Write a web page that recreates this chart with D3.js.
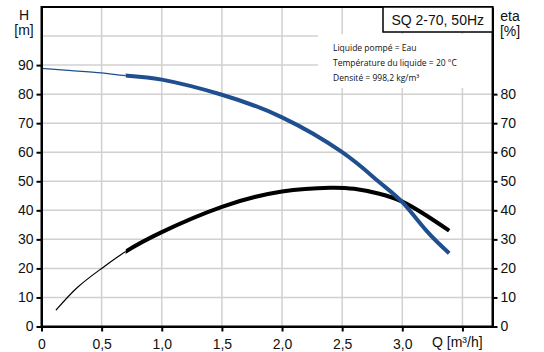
<!DOCTYPE html>
<html>
<head>
<meta charset="utf-8">
<script src="https://cdn.jsdelivr.net/npm/d3@7"></script>
<style>
  body { margin: 0; background: #fff; }
  svg { display: block; font-family: "Liberation Sans", Arial, sans-serif; }
  .grid line { stroke: #d0d0d0; stroke-width: 1.5; }
  .axis path, .axis line { stroke: #000; stroke-width: 2; }
  .axis text { font-size: 14px; fill: #111; }
</style>
</head>
<body>
<figure id="chart" style="margin:0"></figure>
<script>
// pump curve
const headQ = [0, 0.25, 0.5, 0.7, 1.0, 1.5, 2.0, 2.5, 2.8, 3.0, 3.2, 3.39];
const headH = [88.9, 88.1, 87.3, 86.4, 85.0, 79.8, 72.0, 60.0, 50.0, 42.8, 33.0, 25.2];
const effQ = [0.12, 0.3, 0.5, 0.7, 1.0, 1.5, 2.0, 2.4, 2.6, 2.8, 3.0, 3.2, 3.39];
const effEta = [5.6, 13.5, 20.0, 25.8, 32.5, 41.2, 46.5, 47.8, 47.4, 45.8, 43.0, 38.2, 33.0];
const dutyStart = 0.7; // thick part of the curves begins here

const xTicks = [0, 0.5, 1.0, 1.5, 2.0, 2.5, 3.0, 3.5];
const hTicks = [0, 10, 20, 30, 40, 50, 60, 70, 80, 90];
const etaTicks = [0, 10, 20, 30, 40, 50, 60, 70, 80];
const gridY = [10, 20, 30, 40, 50, 60, 70, 80, 90, 100];

const title = "SQ 2-70, 50Hz";
const infoLines = ["Liquide pompé = Eau", "Température du liquide = 20 °C", "Densité = 998,2 kg/m³"];

const width = 544, height = 352;
const mLeft = 41.5, mRight = 492.5, mTop = 7, mBottom = 326.5;

const x = d3.scaleLinear().domain([0, 3.75]).range([mLeft, mRight]);
const y = d3.scaleLinear().domain([0, 110]).range([mBottom, mTop]);

const svg = d3.select("figure#chart")
  .append("svg")
  .attr("width", width)
  .attr("height", height);

// clip regions either side of the duty range start
const defs = svg.append("defs");
defs.append("clipPath").attr("id", "clipThin")
  .append("rect")
  .attr("x", 0).attr("y", 0)
  .attr("width", x(dutyStart)).attr("height", height);
defs.append("clipPath").attr("id", "clipThick")
  .append("rect")
  .attr("x", x(dutyStart)).attr("y", 0)
  .attr("width", width - x(dutyStart)).attr("height", height);

// grid
const grid = svg.append("g").attr("class", "grid");
grid.selectAll("line.v")
  .data(xTicks.filter(d => d > 0))
  .join("line")
  .attr("class", "v")
  .attr("x1", d => x(d)).attr("x2", d => x(d))
  .attr("y1", mTop).attr("y2", mBottom);
grid.selectAll("line.h")
  .data(gridY)
  .join("line")
  .attr("class", "h")
  .attr("x1", mLeft).attr("x2", mRight)
  .attr("y1", d => y(d)).attr("y2", d => y(d));

// info box (white, hides grid)
const info = svg.append("g");
info.append("rect")
  .attr("x", 318).attr("y", 34)
  .attr("width", mRight - 318).attr("height", 54)
  .attr("fill", "#fff");
info.selectAll("text")
  .data(infoLines)
  .join("text")
  .attr("x", 333)
  .attr("y", (d, i) => 51 + i * 15)
  .attr("font-family", "'Open Sans', sans-serif")
  .attr("font-size", 8.5)
  .attr("fill", "#111")
  .text(d => d);

// curves
const toPts = (qs, vs) => qs.map((q, i) => [q, vs[i]]);
const headPts = toPts(headQ, headH);
const effPts = toPts(effQ, effEta);

const line = d3.line()
  .x(d => x(d[0]))
  .y(d => y(d[1]))
  .curve(d3.curveNatural);

function drawCurve(pts, color) {
  svg.append("path")
    .datum(pts)
    .attr("d", line)
    .attr("clip-path", "url(#clipThin)")
    .attr("fill", "none")
    .attr("stroke", color)
    .attr("stroke-width", 1.2);
  svg.append("path")
    .datum(pts)
    .attr("d", line)
    .attr("clip-path", "url(#clipThick)")
    .attr("fill", "none")
    .attr("stroke", color)
    .attr("stroke-width", 4);
}
drawCurve(effPts, "#000");
drawCurve(headPts, "#1f4f8f");

// frame
svg.append("rect")
  .attr("x", mLeft).attr("y", mTop)
  .attr("width", mRight - mLeft).attr("height", mBottom - mTop)
  .attr("fill", "none")
  .attr("stroke", "#000")
  .attr("stroke-width", 2);

// axes
const fmtX = d => d === 0 ? "0" : d >= 3.5 ? "" : d3.format(".1f")(d).replace(".", ",");

svg.append("g")
  .attr("class", "axis")
  .attr("transform", `translate(0,${mBottom})`)
  .call(d3.axisBottom(x).tickValues(xTicks).tickFormat(fmtX).tickSize(5).tickSizeOuter(0))
  .call(g => g.selectAll("text").attr("dy", "1.05em"));

svg.append("g")
  .attr("class", "axis")
  .attr("transform", `translate(${mLeft},0)`)
  .call(d3.axisLeft(y).tickValues(hTicks).tickSize(5).tickSizeOuter(0).tickPadding(3));

svg.append("g")
  .attr("class", "axis")
  .attr("transform", `translate(${mRight},0)`)
  .call(d3.axisRight(y).tickValues(etaTicks).tickSize(5).tickSizeOuter(0).tickPadding(3));

// title box
svg.append("rect")
  .attr("x", 383).attr("y", mTop)
  .attr("width", mRight - 383).attr("height", 25)
  .attr("fill", "#fff")
  .attr("stroke", "#000")
  .attr("stroke-width", 1.5);
svg.append("text")
  .attr("x", (383 + mRight) / 2).attr("y", 25)
  .attr("text-anchor", "middle")
  .attr("font-size", 14)
  .attr("fill", "#111")
  .text(title);

// axis titles
const labels = svg.append("g").attr("font-size", 14).attr("fill", "#111");
labels.append("text").attr("x", 24).attr("y", 20).attr("text-anchor", "middle").text("H");
labels.append("text").attr("x", 24).attr("y", 35).attr("text-anchor", "middle").text("[m]");
labels.append("text").attr("x", 510).attr("y", 21).attr("text-anchor", "middle").text("eta");
labels.append("text").attr("x", 510).attr("y", 36).attr("text-anchor", "middle").text("[%]");
labels.append("text").attr("x", 432).attr("y", 347).text("Q [m³/h]");
</script>
</body>
</html>
